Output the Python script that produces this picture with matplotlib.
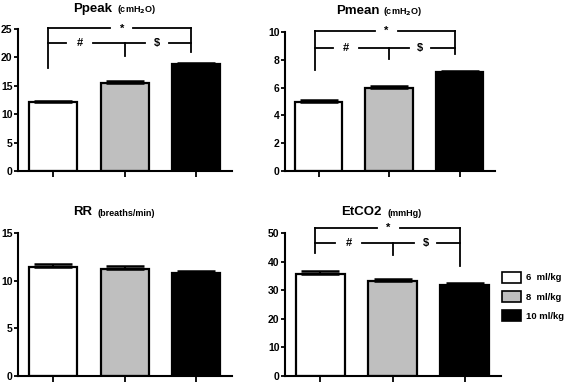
import matplotlib.pyplot as plt
from matplotlib.patches import Patch

plt.rcParams['font.family'] = ['Liberation Sans', 'DejaVu Sans']
plt.rcParams['font.weight'] = 'bold'

groups = ["6  ml/kg", "8  ml/kg", "10 ml/kg"]
colors = ["white", "#bfbfbf", "black"]

ppeak = [12.1, 15.5, 18.8]
ppeak_err = [0.25, 0.3, 0.3]
pmean = [5.0, 6.0, 7.1]
pmean_err = [0.1, 0.1, 0.1]
rr = [11.45, 11.25, 10.8]
rr_err = [0.3, 0.25, 0.2]
etco2 = [35.8, 33.3, 31.9]
etco2_err = [0.8, 0.5, 0.6]

fig = plt.figure(figsize=(5.67, 3.83), dpi=100)

# axes rects (pixels -> figure fraction)
def rect(x0, x1, ytop, ybot):
    return [x0 / 567, 1 - ybot / 383, (x1 - x0) / 567, (ybot - ytop) / 383]

ax1 = fig.add_axes(rect(18, 232, 29, 171))
ax2 = fig.add_axes(rect(285, 495, 32, 171))
ax3 = fig.add_axes(rect(18, 232, 233, 376))
ax4 = fig.add_axes(rect(285, 501, 233, 376))


def panel(ax, vals, errs, ymax, step, xlim, width):
    x = range(len(vals))
    ax.bar(x, vals, width=width, color=colors, edgecolor="black", linewidth=1.6, zorder=2)
    ax.errorbar(x, vals, yerr=[[0] * len(errs), errs], fmt="none", ecolor="black",
                elinewidth=1.5, capsize=14, capthick=1.8, zorder=3)
    ax.set_ylim(0, ymax)
    ax.set_xlim(*xlim)
    ax.set_yticks(range(0, ymax + 1, step))
    ax.set_xticks(list(x))
    ax.set_xticklabels([])
    for s in ["top", "right"]:
        ax.spines[s].set_visible(False)
    for s in ["left", "bottom"]:
        ax.spines[s].set_linewidth(1.5)
    ax.tick_params(axis="y", length=3, width=1.3, labelsize=7.5, pad=1)
    ax.tick_params(axis="x", length=4, width=1.3)
    for lab in ax.get_yticklabels():
        lab.set_fontweight("bold")


def brackets(ax, xl, xm, xr, ytop, yleft, ylow, ymid, yright, gaps_top, gaps_low):
    kw = dict(color="black", lw=1.3, clip_on=False, zorder=4)
    # top line with gap for "*"
    ax.plot([xl, gaps_top[0]], [ytop, ytop], **kw)
    ax.plot([gaps_top[1], xr], [ytop, ytop], **kw)
    ax.plot([xl, xl], [ytop, yleft], **kw)
    ax.plot([xr, xr], [ytop, yright], **kw)
    # lower line with gaps for "#" and "$"
    ax.plot([xl, gaps_low[0]], [ylow, ylow], **kw)
    ax.plot([gaps_low[1], gaps_low[2]], [ylow, ylow], **kw)
    ax.plot([gaps_low[3], xr], [ylow, ylow], **kw)
    ax.plot([xm, xm], [ylow, ymid], **kw)
    tk = dict(ha="center", va="center", fontsize=8, fontweight="bold")
    ax.text((gaps_top[0] + gaps_top[1]) / 2, ytop, "*", **tk)
    ax.text((gaps_low[0] + gaps_low[1]) / 2, ylow, "#", **tk)
    ax.text((gaps_low[2] + gaps_low[3]) / 2, ylow, "$", **tk)


panel(ax1, ppeak, ppeak_err, 25, 5, (-0.49, 2.5), 0.67)
panel(ax2, pmean, pmean_err, 10, 2, (-0.475, 2.5), 0.67)
panel(ax3, rr, rr_err, 15, 5, (-0.49, 2.5), 0.67)
panel(ax4, etco2, etco2_err, 50, 10, (-0.49, 2.5), 0.68)

brackets(ax1, -0.07, 1.0, 1.93, 25.1, 18.1, 22.5, 20.2, 21.0, (0.8, 1.12), (0.18, 0.56, 1.28, 1.62))
brackets(ax2, -0.05, 1.0, 1.93, 10.05, 7.3, 8.85, 8.05, 8.45, (0.8, 1.12), (0.2, 0.58, 1.28, 1.6))
brackets(ax4, -0.07, 1.0, 1.93, 51.7, 43.0, 46.5, 42.2, 38.4, (0.78, 1.1), (0.2, 0.58, 1.3, 1.62))

# titles: bold name + smaller unit
def title(x_name, x_unit, y, name, unit):
    fig.text(x_name / 567, 1 - y / 383, name, fontsize=9.5, fontweight="bold", ha="left", va="center")
    fig.text(x_unit / 567, 1 - (y + 1) / 383, unit, fontsize=6.5, fontweight="bold", ha="left", va="center")

title(73, 117, 9, "Ppeak", "(cmH$_\\mathbf{2}$O)")
title(336, 383, 11, "Pmean", "(cmH$_\\mathbf{2}$O)")
title(73, 97, 212, "RR", "(breaths/min)")
title(341, 387, 212, "EtCO2", "(mmHg)")

handles = [Patch(facecolor=c, edgecolor="black", linewidth=1.2) for c in colors]
fig.legend(handles, groups, loc="upper left", bbox_to_anchor=(502 / 567, 1 - 272 / 383),
           frameon=False, handlelength=2.0, handleheight=1.35,
           labelspacing=0.9, handletextpad=0.5, borderpad=0, borderaxespad=0,
           prop={"weight": "bold", "size": 6.8})

fig.savefig("out.png", dpi=100)
